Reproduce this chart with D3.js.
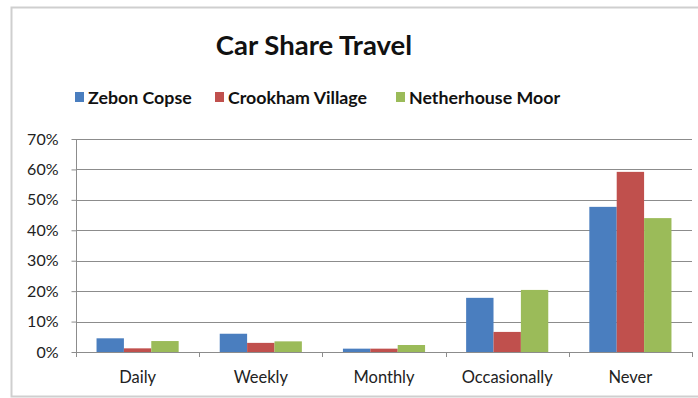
<!DOCTYPE html>
<html><head><meta charset="utf-8">
<script src="https://cdn.jsdelivr.net/npm/d3@7"></script>
<style>body{margin:0;background:#fff}svg{display:block;font-family:Lato,"Open Sans",sans-serif}</style>
</head><body><svg id="c" width="698" height="398"></svg>
<script>
const categories = ["Daily","Weekly","Monthly","Occasionally","Never"];
const seriesNames = ["Zebon Copse","Crookham Village","Netherhouse Moor"];
const zebonCopse = [0.045,0.06,0.011,0.178,0.477];
const crookhamVillage = [0.012,0.03,0.011,0.066,0.592];
const netherhouseMoor = [0.036,0.035,0.023,0.204,0.44];
const yTicks = [0,0.1,0.2,0.3,0.4,0.5,0.6,0.7];
const colors = ["#4a7ebf","#c0504d","#9bbb59"];
const seriesValues = [zebonCopse, crookhamVillage, netherhouseMoor];

const svg = d3.select("#c");
svg.append("rect").attr("x",11.5).attr("y",7.5).attr("width",700).attr("height",389)
  .attr("fill","#fff").attr("stroke","#cfcfcf").attr("stroke-width",2);

const pL=76, pR=692, pT=139, pB=352;
const x0 = d3.scaleBand().domain(categories).range([pL,pR]).paddingInner(0).paddingOuter(0);
const bw = x0.bandwidth()/4.5;
const x1 = d3.scaleBand().domain(seriesNames).range([0.75*bw, 3.75*bw]);
const y = d3.scaleLinear().domain([0,0.7]).range([pB,pT]);

// gridlines
svg.append("g").selectAll("line").data(yTicks.slice(1)).join("line")
  .attr("x1",pL).attr("x2",pR).attr("y1",d=>Math.round(y(d))+0.5).attr("y2",d=>Math.round(y(d))+0.5)
  .attr("stroke","#8c8c8c").attr("stroke-width",1);

// bars
const g = svg.append("g");
seriesNames.forEach((s,si)=>{
  g.append("g").selectAll("rect").data(categories).join("rect")
    .attr("x",(c)=>x0(c)+x1(s)).attr("width",x1.bandwidth())
    .attr("y",(c,i)=>y(seriesValues[si][i])).attr("height",(c,i)=>pB-y(seriesValues[si][i]))
    .attr("fill",colors[si]);
});

// y axis
const yAxis = d3.axisLeft(y).tickValues(yTicks).tickFormat(d3.format(".0%")).tickSize(5).tickPadding(13);
const ya = svg.append("g").attr("transform",`translate(${pL+0.5},0)`).call(yAxis);
ya.select(".domain").attr("stroke","#8c8c8c").attr("d",`M0,${pT}V${pB}`);
ya.selectAll(".tick line").attr("stroke","#8c8c8c");
ya.selectAll("text").attr("font-size",16).attr("fill","#222").attr("font-family","Lato,sans-serif");

// x axis
const xa = svg.append("g").attr("transform",`translate(0,${pB+0.5})`)
  .call(d3.axisBottom(x0).tickSize(0).tickPadding(19));
xa.select(".domain").attr("stroke","#8c8c8c").attr("d",`M${pL},0H${pR}`);
xa.selectAll("text").attr("font-size",16.5).attr("fill","#222").attr("font-family","Lato,sans-serif");
const edges = categories.map(c=>x0(c)).concat([pR]);
svg.append("g").selectAll("line").data(edges).join("line")
  .attr("x1",d=>Math.round(d)+0.5).attr("x2",d=>Math.round(d)+0.5).attr("y1",pB).attr("y2",pB+5)
  .attr("stroke","#8c8c8c");

// title
svg.append("text").attr("x",314).attr("y",55).attr("text-anchor","middle")
  .attr("font-size",27.5).attr("font-weight","bold").attr("fill","#111").text("Car Share Travel");

// legend
const legX = [75,215,396];
const leg = svg.append("g");
seriesNames.forEach((s,i)=>{
  leg.append("rect").attr("x",legX[i]).attr("y",92).attr("width",9).attr("height",10).attr("fill",colors[i]);
  leg.append("text").attr("x",legX[i]+13).attr("y",104).attr("font-size",17.8).attr("font-weight","bold")
    .attr("fill","#111").text(s);
});
</script></body></html>
